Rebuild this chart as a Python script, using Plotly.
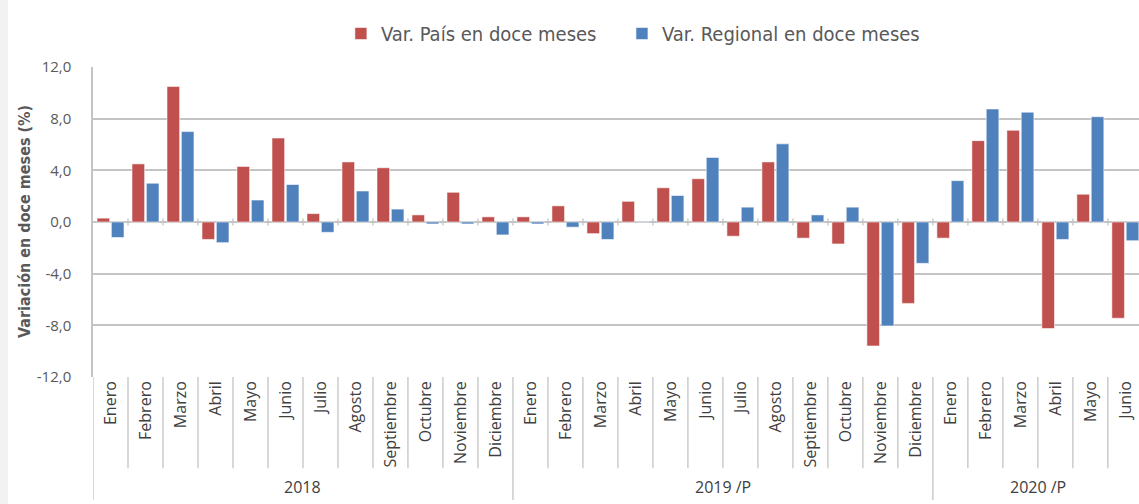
import plotly.graph_objects as go

# ---- data ----
years = ["2018", "2019 /P", "2020 /P"]
year_counts = [12, 12, 6]
month_names = ["Enero", "Febrero", "Marzo", "Abril", "Mayo", "Junio", "Julio",
               "Agosto", "Septiembre", "Octubre", "Noviembre", "Diciembre"]
pais = [0.3, 4.5, 10.5, -1.35, 4.3, 6.5, 0.65, 4.65, 4.2, 0.55, 2.3, 0.4,
        0.4, 1.25, -0.9, 1.6, 2.65, 3.35, -1.1, 4.65, -1.25, -1.7, -9.6, -6.3,
        -1.25, 6.3, 7.1, -8.25, 2.15, -7.45]
regional = [-1.2, 3.0, 7.0, -1.6, 1.7, 2.9, -0.8, 2.4, 1.0, -0.15, -0.15, -1.0,
            -0.15, -0.4, -1.35, 0.05, 2.05, 5.0, 1.15, 6.05, 0.55, 1.15, -8.05, -3.2,
            3.2, 8.75, 8.5, -1.35, 8.15, -1.45]
y_ticks = [-12, -8, -4, 0, 4, 8, 12]
y_tick_labels = [f"{v:.1f}".replace(".", ",") for v in y_ticks]

months = []
year_start = []
for yname, n in zip(years, year_counts):
    year_start.append(len(months))
    months += month_names[:n]
idx = list(range(len(months)))

RED = "#C0504D"
BLUE = "#4F81BD"
GRID = "#C4C4C4"
LEGEND_FONT = dict(size=20, color="#595959", family="DejaVu Sans Condensed")

fig = go.Figure()
fig.add_bar(x=idx, y=pais, name="Var. País en doce meses", legend="legend",
            marker=dict(color=RED, line=dict(color="rgba(255,255,255,0.55)", width=1)))
fig.add_bar(x=idx, y=regional, name="Var. Regional en doce meses", legend="legend2",
            marker=dict(color=BLUE, line=dict(color="rgba(255,255,255,0.55)", width=1)))

shapes = []
# light band at the left edge of the picture
shapes.append(dict(type="rect", xref="paper", yref="paper", x0=-93 / 1046, x1=-85 / 1046,
                   y0=-127 / 310, y1=1 + 67 / 310, line=dict(width=0), fillcolor="#F2F2F2", layer="below"))
# category separators below the plot
for i in idx:
    long_line = i in year_start
    shapes.append(dict(type="line", xref="x", yref="paper", x0=i - 0.5, x1=i - 0.5,
                       y0=0, y1=-0.397 if long_line else -0.294,
                       line=dict(color=GRID, width=1.3)))
    if i > 0:
        shapes.append(dict(type="line", xref="x", yref="y", x0=i - 0.5, x1=i - 0.5,
                           y0=-0.28, y1=0.28, line=dict(color=GRID, width=1.3)))

annotations = []
for yname, n, s in zip(years, year_counts, year_start):
    annotations.append(dict(text=yname, x=s + (n - 1) / 2, xref="x", y=-0.355, yref="paper",
                            showarrow=False, font=dict(size=16, color="#404040", family="Open Sans"),
                            xanchor="center", yanchor="middle"))
annotations.append(dict(text="<b>Variación en doce meses (%)</b>", x=0, xref="paper", xshift=-69,
                        y=0.5, yref="paper", textangle=-90, showarrow=False,
                        font=dict(size=16, color="#595959", family="DejaVu Sans Condensed"),
                        xanchor="center", yanchor="middle"))

fig.update_layout(
    width=1139, height=504,
    margin=dict(l=93, r=0, t=67, b=127, autoexpand=False),
    paper_bgcolor="white", plot_bgcolor="white",
    barmode="group", bargap=0.18, bargroupgap=0.12,
    showlegend=True,
    legend=dict(orientation="h", x=0.237, xanchor="left", y=1.108, yanchor="middle",
                font=LEGEND_FONT, itemwidth=30),
    legend2=dict(orientation="h", x=0.5057, xanchor="left", y=1.108, yanchor="middle",
                 font=LEGEND_FONT, itemwidth=30),
    xaxis=dict(range=[-0.5, 29.39], tickmode="array", tickvals=idx, ticktext=months,
               tickangle=-90, tickfont=dict(size=16, color="#404040", family="Open Sans"),
               showgrid=False, zeroline=False, showline=False, ticks="", fixedrange=True,
               automargin=False),
    yaxis=dict(range=[-12, 12], tickmode="array", tickvals=y_ticks, ticktext=y_tick_labels,
               tickfont=dict(size=15, color="#595959", family="Open Sans"),
               showgrid=True, gridcolor=GRID, gridwidth=1.5,
               zeroline=True, zerolinecolor=GRID, zerolinewidth=1.5,
               showline=True, linecolor=GRID, linewidth=1.5, ticks="",
               ticklabelstandoff=17, automargin=False),
    shapes=shapes, annotations=annotations,
)
fig.write_html("out.html", config={"displayModeBar": False},
               post_script="document.body.style.margin='0';")
